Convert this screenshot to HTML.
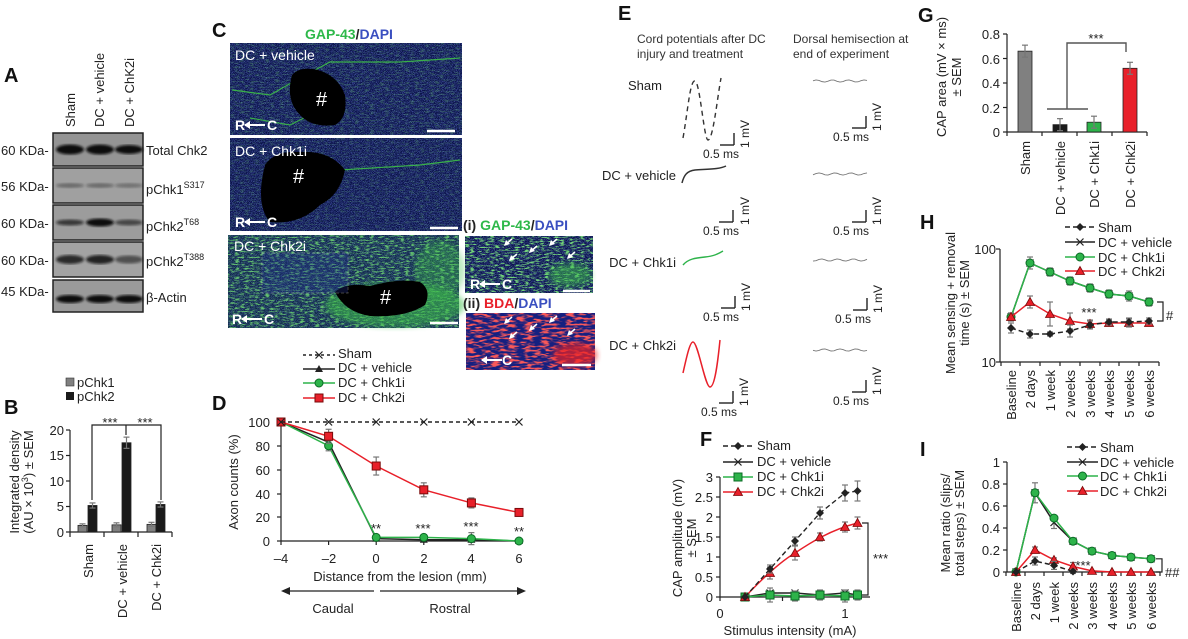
<!DOCTYPE html>
<html><head><meta charset="utf-8"><style>
html,body{margin:0;padding:0;background:#fff;}
svg{display:block;font-family:"Liberation Sans",Arial,sans-serif;}
.t{font-size:13px;fill:#222}
.s{font-size:12px;fill:#333}
.L{font-size:20px;font-weight:bold;fill:#111}
</style></head><body>
<svg id="g" width="1188" height="639" viewBox="0 0 1188 639" xmlns="http://www.w3.org/2000/svg">
<defs>
<filter id="nb" x="0" y="0" width="100%" height="100%">
 <feTurbulence type="fractalNoise" baseFrequency="1.6" numOctaves="1" seed="3" result="n"/>
 <feColorMatrix in="n" type="matrix" values="0 0 0 0 0.15  0 0 0 0 0.22  0 0 0 0 0.75  0 0 0 4 -1.9" />
</filter>
<filter id="ng" x="0" y="0" width="100%" height="100%">
 <feTurbulence type="fractalNoise" baseFrequency="0.2 0.7" numOctaves="2" seed="7" result="n"/>
 <feColorMatrix in="n" type="matrix" values="0 0 0 0 0.2  0 0 0 0 0.8  0 0 0 0 0.2  0 0 0 5 -2.5"/>
</filter>
<filter id="nr" x="0" y="0" width="100%" height="100%">
 <feTurbulence type="fractalNoise" baseFrequency="0.12 0.5" numOctaves="2" seed="5" result="n"/>
 <feColorMatrix in="n" type="matrix" values="0 0 0 0 0.95  0 0 0 0 0.1  0 0 0 0 0.1  0 0 0 5 -2.3"/>
</filter>
<filter id="bl"><feGaussianBlur stdDeviation="1.3"/></filter>
<filter id="bl2"><feGaussianBlur stdDeviation="3"/></filter>
</defs>

<!-- A -->
<text x="4" y="82" class="L">A</text>
<g class="t" font-size="14">
<text transform="translate(75,127) rotate(-90)">Sham</text>
<text transform="translate(104,127) rotate(-90)">DC + vehicle</text>
<text transform="translate(134,127) rotate(-90)">DC + ChK2i</text>
</g>
<g id="blots"></g>
<g class="t" font-size="14">
<text x="1" y="155">60 KDa-</text>
<text x="1" y="191">56 KDa-</text>
<text x="1" y="228">60 KDa-</text>
<text x="1" y="265">60 KDa-</text>
<text x="1" y="296">45 KDa-</text>
<text x="146" y="155">Total Chk2</text>
<text x="146" y="194">pChk1<tspan font-size="9" dy="-6">S317</tspan></text>
<text x="146" y="231">pChk2<tspan font-size="9" dy="-6">T68</tspan></text>
<text x="146" y="266">pChk2<tspan font-size="9" dy="-6">T388</tspan></text>
<text x="146" y="302">β-Actin</text>
</g>

<!-- B -->
<text x="4" y="414" class="L">B</text>
<rect x="66" y="378" width="8" height="8" fill="#808080" stroke="#333" stroke-width="0.6"/>
<rect x="66" y="392" width="8" height="8" fill="#1a1a1a"/>
<text x="77" y="387" class="t">pChk1</text>
<text x="77" y="401" class="t">pChk2</text>
<text transform="translate(19,482) rotate(-90)" class="t" text-anchor="middle" font-size="14">Integrated density</text>
<text transform="translate(33,482) rotate(-90)" class="t" text-anchor="middle" font-size="14">(AU × 10<tspan font-size="9" dy="-5">3</tspan><tspan dy="5">) ± SEM</tspan></text>
<g class="t" text-anchor="end" font-size="14">
<text x="64" y="435">20</text><text x="64" y="460">15</text><text x="64" y="486">10</text><text x="64" y="511">5</text><text x="64" y="537">0</text>
</g>
<g id="B"></g>
<g class="t" font-size="14">
<text transform="translate(93,544) rotate(-90)" text-anchor="end">Sham</text>
<text transform="translate(127,544) rotate(-90)" text-anchor="end">DC + vehicle</text>
<text transform="translate(161,544) rotate(-90)" text-anchor="end">DC + Chk2i</text>
</g>
<text x="110" y="427" class="t" text-anchor="middle" font-size="14">***</text>
<text x="145" y="427" class="t" text-anchor="middle" font-size="14">***</text>

<!-- C -->
<text x="212" y="37" class="L">C</text>
<text x="305" y="39" font-size="14" font-weight="bold"><tspan fill="#2eb84a">GAP-43</tspan><tspan fill="#222">/</tspan><tspan fill="#3a4fc0">DAPI</tspan></text>
<g id="C"></g>
<g font-size="14" fill="#fff">
<text x="235" y="60">DC + vehicle</text>
<text x="235" y="156">DC + Chk1i</text>
<text x="234" y="251">DC + Chk2i</text>
<text x="316" y="106" font-size="20">#</text>
<text x="293" y="183" font-size="20">#</text>
<text x="380" y="304" font-size="20">#</text>
<text x="235" y="130" font-weight="bold">R</text><text x="267" y="130" font-weight="bold">C</text>
<text x="235" y="227" font-weight="bold">R</text><text x="267" y="227" font-weight="bold">C</text>
<text x="232" y="324" font-weight="bold">R</text><text x="264" y="324" font-weight="bold">C</text>
<text x="470" y="289" font-weight="bold">R</text><text x="502" y="289" font-weight="bold">C</text>
<text x="502" y="365" font-weight="bold">C</text>
</g>
<text x="463" y="230" font-size="14" font-weight="bold"><tspan fill="#222">(i) </tspan><tspan fill="#2eb84a">GAP-43</tspan><tspan fill="#222">/</tspan><tspan fill="#3a4fc0">DAPI</tspan></text>
<text x="463" y="308" font-size="14" font-weight="bold"><tspan fill="#222">(ii) </tspan><tspan fill="#e8202a">BDA</tspan><tspan fill="#222">/</tspan><tspan fill="#3a4fc0">DAPI</tspan></text>

<!-- D -->
<text x="212" y="410" class="L">D</text>
<g class="t" font-size="14">
<text x="338" y="358">Sham</text><text x="338" y="372">DC + vehicle</text><text x="338" y="387">DC + Chk1i</text><text x="338" y="402">DC + Chk2i</text>
</g>
<text transform="translate(238,482) rotate(-90)" class="t" text-anchor="middle" font-size="14">Axon counts (%)</text>
<g class="t" text-anchor="end" font-size="14">
<text x="270" y="427">100</text><text x="270" y="451">80</text><text x="270" y="475">60</text><text x="270" y="499">40</text><text x="270" y="522">20</text><text x="270" y="546">0</text>
</g>
<g class="t" text-anchor="middle" font-size="14">
<text x="281" y="563">–4</text><text x="329" y="563">–2</text><text x="376" y="563">0</text><text x="424" y="563">2</text><text x="471" y="563">4</text><text x="519" y="563">6</text>
<text x="400" y="581">Distance from the lesion (mm)</text>
<text x="333" y="613">Caudal</text><text x="450" y="613">Rostral</text>
<text x="376" y="533">**</text><text x="423" y="533">***</text><text x="471" y="531">***</text><text x="519" y="536">**</text>
</g>
<g id="D"></g>

<!-- E -->
<text x="618" y="20" class="L">E</text>
<g class="s"><text x="637" y="43">Cord potentials after DC</text><text x="637" y="58">injury and treatment</text>
<text x="793" y="43">Dorsal hemisection at</text><text x="793" y="58">end of experiment</text></g>
<g class="t" font-size="15" fill="#333">
<text x="628" y="90">Sham</text>
<text x="676" y="180" text-anchor="end">DC + vehicle</text>
<text x="676" y="267" text-anchor="end">DC + Chk1i</text>
<text x="676" y="350" text-anchor="end">DC + Chk2i</text>
</g>
<g id="E"></g>

<!-- F -->
<text x="700" y="446" class="L">F</text>
<g class="t" font-size="14">
<text x="757" y="450">Sham</text><text x="757" y="466">DC + vehicle</text><text x="757" y="481">DC + Chk1i</text><text x="757" y="496">DC + Chk2i</text>
</g>
<text transform="translate(682,538) rotate(-90)" class="t" text-anchor="middle" font-size="14">CAP amplitude (mV)</text>
<text transform="translate(696,538) rotate(-90)" class="t" text-anchor="middle" font-size="14">± SEM</text>
<g class="t" text-anchor="end" font-size="14">
<text x="713" y="482">3</text><text x="713" y="502">2.5</text><text x="713" y="522">2</text><text x="713" y="542">1.5</text><text x="713" y="562">1</text><text x="713" y="582">0.5</text><text x="713" y="602">0</text>
</g>
<g class="t" text-anchor="middle" font-size="14">
<text x="720" y="618">0</text><text x="845" y="618">1</text><text x="790" y="635">Stimulus intensity (mA)</text>
</g>
<text x="873" y="563" class="t" font-size="14">***</text>
<g id="F"></g>

<!-- G -->
<text x="918" y="22" class="L">G</text>
<text transform="translate(946,77) rotate(-90)" class="t" text-anchor="middle" font-size="14">CAP area (mV × ms)</text>
<text transform="translate(961,77) rotate(-90)" class="t" text-anchor="middle" font-size="14">± SEM</text>
<g class="t" text-anchor="end" font-size="14">
<text x="1000" y="39">0.8</text><text x="1000" y="64">0.6</text><text x="1000" y="88">0.4</text><text x="1000" y="113">0.2</text><text x="1000" y="137">0</text>
</g>
<g class="t" font-size="14">
<text transform="translate(1030,141) rotate(-90)" text-anchor="end">Sham</text>
<text transform="translate(1065,141) rotate(-90)" text-anchor="end">DC + vehicle</text>
<text transform="translate(1099,141) rotate(-90)" text-anchor="end">DC + Chk1i</text>
<text transform="translate(1135,141) rotate(-90)" text-anchor="end">DC + Chk2i</text>
</g>
<text x="1096" y="43" class="t" text-anchor="middle" font-size="14">***</text>
<g id="G"></g>

<!-- H -->
<text x="920" y="229" class="L">H</text>
<g class="t" font-size="14">
<text x="1098" y="232">Sham</text><text x="1098" y="247">DC + vehicle</text><text x="1098" y="262">DC + Chk1i</text><text x="1098" y="276">DC + Chk2i</text>
</g>
<text transform="translate(955,303) rotate(-90)" class="t" text-anchor="middle" font-size="14">Mean sensing + removal</text>
<text transform="translate(969,303) rotate(-90)" class="t" text-anchor="middle" font-size="14">time (s) ± SEM</text>
<g class="t" text-anchor="end" font-size="14"><text x="996" y="254">100</text><text x="996" y="367">10</text></g>
<text x="1089" y="317" class="t" font-size="14" text-anchor="middle">***</text>
<text x="1166" y="320" class="t" font-size="16">#</text>
<g class="t" font-size="14" text-anchor="end">
<text transform="translate(1016,370) rotate(-90)">Baseline</text>
<text transform="translate(1035,370) rotate(-90)">2 days</text>
<text transform="translate(1055,370) rotate(-90)">1 week</text>
<text transform="translate(1075,370) rotate(-90)">2 weeks</text>
<text transform="translate(1095,370) rotate(-90)">3 weeks</text>
<text transform="translate(1114,370) rotate(-90)">4 weeks</text>
<text transform="translate(1134,370) rotate(-90)">5 weeks</text>
<text transform="translate(1154,370) rotate(-90)">6 weeks</text>
</g>
<g id="H"></g>

<!-- I -->
<text x="920" y="456" class="L">I</text>
<g class="t" font-size="14">
<text x="1100" y="452">Sham</text><text x="1100" y="467">DC + vehicle</text><text x="1100" y="481">DC + Chk1i</text><text x="1100" y="496">DC + Chk2i</text>
</g>
<text transform="translate(950,523) rotate(-90)" class="t" text-anchor="middle" font-size="14">Mean ratio (slips/</text>
<text transform="translate(964,523) rotate(-90)" class="t" text-anchor="middle" font-size="14">total steps) ± SEM</text>
<g class="t" text-anchor="end" font-size="14">
<text x="1000" y="467">1</text><text x="1000" y="489">0.8</text><text x="1000" y="511">0.6</text><text x="1000" y="533">0.4</text><text x="1000" y="555">0.2</text><text x="1000" y="577">0</text>
</g>
<text x="1083" y="570" class="t" font-size="14" text-anchor="middle">***</text>
<text x="1165" y="577" class="t" font-size="15">##</text>
<g class="t" font-size="14" text-anchor="end">
<text transform="translate(1021,582) rotate(-90)">Baseline</text>
<text transform="translate(1040,582) rotate(-90)">2 days</text>
<text transform="translate(1059,582) rotate(-90)">1 week</text>
<text transform="translate(1078,582) rotate(-90)">2 weeks</text>
<text transform="translate(1097,582) rotate(-90)">3 weeks</text>
<text transform="translate(1117,582) rotate(-90)">4 weeks</text>
<text transform="translate(1136,582) rotate(-90)">5 weeks</text>
<text transform="translate(1156,582) rotate(-90)">6 weeks</text>
</g>
<g id="I"></g>
</svg>
<script>
var NS="http://www.w3.org/2000/svg";
function el(par,tag,a){var e=document.createElementNS(NS,tag);for(var k in a)e.setAttribute(k,a[k]);document.getElementById(par).appendChild(e);return e;}
function line(p,x1,y1,x2,y2,c,w,d){var a={x1:x1,y1:y1,x2:x2,y2:y2,stroke:c||"#222","stroke-width":w||1.2};if(d)a["stroke-dasharray"]=d;return el(p,"line",a);}
function poly(p,pts,c,w,d){var a={points:pts.map(function(q){return q.join(",")}).join(" "),fill:"none",stroke:c,"stroke-width":w||1.5};if(d)a["stroke-dasharray"]=d;el(p,"polyline",a);}
function err(p,x,y,e){line(p,x,y-e,x,y+e,"#777",1.2);line(p,x-3,y-e,x+3,y-e,"#777",1.2);line(p,x-3,y+e,x+3,y+e,"#777",1.2);}
function mk(p,t,x,y,c){
 if(t=="o")el(p,"circle",{cx:x,cy:y,r:4,fill:c,stroke:"#0a6b25","stroke-width":1});
 else if(t=="s")el(p,"rect",{x:x-4,y:y-4,width:8,height:8,fill:c,stroke:"#7a0a0a","stroke-width":1});
 else if(t=="sg")el(p,"rect",{x:x-4,y:y-4,width:8,height:8,fill:"#2db34a",stroke:"#0a6b25","stroke-width":1});
 else if(t=="t")el(p,"path",{d:"M"+x+","+(y-4.5)+"l4.5,8h-9z",fill:c,stroke:"#7a0a0a","stroke-width":0.8});
 else if(t=="d")el(p,"path",{d:"M"+x+","+(y-4)+"l4,4l-4,4l-4,-4z",fill:"#222"});
 else if(t=="x"){line(p,x-3.5,y-3.5,x+3.5,y+3.5,"#222",1.2);line(p,x-3.5,y+3.5,x+3.5,y-3.5,"#222",1.2);}
 else if(t=="tb")el(p,"path",{d:"M"+x+","+(y-4)+"l4,7h-8z",fill:"#222"});
}
function legend(p,x1,x2,y,c,d,m,mc){line(p,x1,y,x2,y,c,1.5,d);mk(p,m,(x1+x2)/2,y,mc);}
/* A blots */
var rows=[[133,166,"#949494",[[1,5,1],[1,5,1],[1,4.5,1]]],[168,203,"#a0a0a0",[[.35,2.5,1],[.35,2.5,1],[.3,2.5,1]]],[205,240,"#9c9c9c",[[.7,3,1],[1,4,1],[.6,3,1]]],[242,277,"#a3a3a3",[[.8,4.5,1],[.85,4.5,1],[.55,4,1]]],[280,312,"#9a9a9a",[[1,4,1],[1,4,1],[1,4,1]]]];
rows.forEach(function(r){el("blots","rect",{x:53,y:r[0],width:90,height:r[1]-r[0],fill:r[2],stroke:"#222","stroke-width":1.5});
 var cy=(r[0]+r[1])/2+(r[0]==280?3:0);[70,100,129].forEach(function(cx,i){var b=r[3][i];el("blots","ellipse",{cx:cx,cy:cy,rx:14,ry:b[1],fill:"#111",opacity:b[0],filter:"url(#bl)"});});});
/* B */
var B0=532,Bs=5.1;
line("B",70,430,70,532,"#222");line("B",70,532,172,532,"#222");
[430,455.5,481,506.5,532].forEach(function(y){line("B",66,y,70,y);});
[70,104,138,172].forEach(function(x){line("B",x,532,x,537);});
[[78,1.3,.3,"#808080"],[88,5.2,.5,"#1a1a1a"],[112,1.4,.4,"#808080"],[122,17.5,1.1,"#1a1a1a"],[147,1.5,.4,"#808080"],[156,5.4,.5,"#1a1a1a"]].forEach(function(b){var h=b[1]*Bs;el("B","rect",{x:b[0],y:B0-h,width:9,height:h,fill:b[3],stroke:"#222","stroke-width":0.8});err("B",b[0]+4.5,B0-h,b[2]*Bs);});
poly("B",[[92,500],[92,425],[161,425],[161,500]],"#222",1.2);line("B",126,425,126,435,"#222",1.2);
/* C images */
function img(x,y,w,h,g){el("C","rect",{x:x,y:y,width:w,height:h,fill:"#0a1248"});el("C","rect",{x:x,y:y,width:w,height:h,filter:"url(#nb)",opacity:0.8});
 if(g)el("C","rect",{x:x,y:y,width:w,height:h,filter:"url(#ng)",opacity:g});}
img(230,43,232,92,0.25);img(230,138,232,93,0.2);img(228,235,231,93,0.8);
poly("C",[[232,90],[270,95],[300,78],[330,62],[400,62],[460,58]],"#3ab04a",1.2);
poly("C",[[250,118],[290,125],[320,110]],"#3ab04a",1.2);
poly("C",[[300,188],[340,170],[420,165],[460,160]],"#3ab04a",1.2);
el("C","path",{d:"M292,75 Q300,66 318,70 Q338,76 345,95 Q348,118 335,125 Q312,128 300,115 Q285,100 292,75z",fill:"#000"});
el("C","path",{d:"M265,165 Q275,150 300,152 Q330,150 345,170 Q340,195 320,205 Q300,225 270,222 Q255,205 265,165z",fill:"#000"});
el("C","rect",{x:228,y:235,width:231,height:93,fill:"#36a840",opacity:0.15});
el("C","ellipse",{cx:395,cy:305,rx:70,ry:22,fill:"#3cc048",opacity:0.55,filter:"url(#bl2)"});
el("C","ellipse",{cx:440,cy:270,rx:25,ry:30,fill:"#3cc048",opacity:0.35,filter:"url(#bl2)"});
el("C","path",{d:"M335,292 Q345,282 370,286 Q400,278 420,282 Q432,290 425,305 Q405,318 370,316 Q345,312 335,292z",fill:"#000"});
el("C","rect",{x:262,y:253,width:86,height:40,fill:"#223090",opacity:0.3,stroke:"#ddd","stroke-width":1,"stroke-dasharray":"3,2"});
img(465,236,128,57,0.9);
el("C","ellipse",{cx:570,cy:275,rx:22,ry:12,fill:"#3cc048",opacity:.5,filter:"url(#bl2)"});
el("C","rect",{x:466,y:313,width:129,height:57,fill:"#152080"});
el("C","rect",{x:466,y:313,width:129,height:57,filter:"url(#nr)"});
el("C","ellipse",{cx:575,cy:355,rx:22,ry:12,fill:"#ee2020",opacity:.7,filter:"url(#bl2)"});
[[427,455,131],[430,458,228],[430,458,323],[563,590,291],[562,591,365]].forEach(function(s){line("C",s[0],s[2],s[1],s[2],"#fff",2.5);});
[[245,130],[245,227],[242,324],[480,289],[482,365]].forEach(function(a){line("C",a[0],a[1]-5,a[0]+20,a[1]-5,"#fff",2);el("C","path",{d:"M"+(a[0]-1)+","+(a[1]-5)+"l6,-4v8z",fill:"#fff"});});
[[505,245],[530,252],[550,245],[568,258],[510,260],[505,323],[530,330],[550,322],[568,335],[510,338]].forEach(function(a){line("C",a[0],a[1],a[0]+7,a[1]-6,"#fff",1.5);el("C","path",{d:"M"+(a[0]-1)+","+(a[1]+1)+"l2,-6l4,4z",fill:"#fff"});});
/* D */
line("D",281,422,281,541);line("D",281,541,519,541);
[422,446,470,494,517,541].forEach(function(y){line("D",277,y,281,y);});
[281,328.6,376.2,423.8,471.4,519].forEach(function(x){line("D",x,541,x,545);});
var DX=[281,328.6,376.2,423.8,471.4,519];function DY(v){return 541-1.19*v;}
function ser(p,X,Y,c,d,m,mc,e){var pts=X.map(function(x,i){return[x,Y[i]];});poly(p,pts,c,1.5,d);if(e)pts.forEach(function(q,i){if(e[i])err(p,q[0],q[1],e[i]);});pts.forEach(function(q){mk(p,m,q[0],q[1],mc);});}
ser("D",DX,[100,83,2,1,1,0].map(DY),"#222",null,"tb");
ser("D",DX,[100,80,3,3,2,0].map(DY),"#2db34a",null,"o","#2db34a",[0,5,2,2,6,2]);
ser("D",DX,[100,88,63,43,32,24].map(DY),"#e8202a",null,"s","#e8202a",[0,7,9,7,5,3]);
ser("D",DX,[100,100,100,100,100,100].map(DY),"#222","4,3","x");
legend("D",303,335,355,"#222","3,3","x");legend("D",303,335,369,"#222",null,"tb");legend("D",303,335,383,"#2db34a",null,"o","#2db34a");legend("D",303,335,398,"#e8202a",null,"s","#e8202a");
line("D",283,591,374,591,"#222",1.2);el("D","path",{d:"M281,591l9,-4v8z",fill:"#222"});
line("D",380,591,522,591,"#222",1.2);el("D","path",{d:"M526,591l-9,-4v8z",fill:"#222"});
/* E */
el("E","path",{d:"M683,138 C688,110 690,80 695,81 C700,82 704,140 708,140 C713,140 717,100 721,78",fill:"none",stroke:"#333","stroke-width":1.4,"stroke-dasharray":"5,4"});
el("E","path",{d:"M682,183 C684,175 687,171 695,170 C710,169 720,169 726,166",fill:"none",stroke:"#333","stroke-width":1.5});
el("E","path",{d:"M683,265 C688,259 695,258 705,257 C714,256 718,254 723,251",fill:"none",stroke:"#2db34a","stroke-width":1.4});
el("E","path",{d:"M683,373 C687,355 690,342 693,342 C698,342 705,387 710,387 C715,387 718,360 720,340",fill:"none",stroke:"#e8202a","stroke-width":1.5});
function sb(x,y){line("E",x,y-12,x,y,"#222",1.4);line("E",x-14,y,x,y,"#222",1.4);}
[[734,145],[733,222],[735,308],[733,403],[866,128],[866,222],[867,310],[866,392]].forEach(function(s){sb(s[0],s[1]);});
[[81,1],[174,1],[260,1],[350,1]].forEach(function(r,i){var pts=[];for(var x=813;x<=867;x+=3)pts.push([x,r[0]+Math.sin(x*1.7+i)*1.1]);poly("E",pts,"#777",0.9);});
/* F */
line("F",720,477,720,597);line("F",720,597,870,597);
[477,497,517,537,557,577,597].forEach(function(y){line("F",716,y,720,y);});
[720,782.5,845].forEach(function(x){line("F",x,597,x,601);});
var FX=[745,770,795,820,845,857.5];
ser("F",FX,[597,593,593,595,593,595],"#222",null,"x");
ser("F",FX,[597,595,596,595,596,595],"#2db34a",null,"sg",null,[0,7,5,5,6,5]);
el("F","path",{d:"M745,597 C760,581 780,562 795,553 C810,543 830,530 857.5,523",fill:"none",stroke:"#e8202a","stroke-width":1.5});
FX.forEach(function(x,i){var y=[597,573,553,537,527,523][i];err("F",x,y,[0,6,7,4,5,6][i]);mk("F","t",x,y,"#e8202a");});
poly("F",FX.map(function(x,i){return[x,[597,569,541,513,493,491][i]];}),"#222",1.4,"5,3");
FX.forEach(function(x,i){var y=[597,569,541,513,493,491][i];err("F",x,y,[0,4,4,6,8,10][i]);mk("F","d",x,y);});
poly("F",[[862,523],[868,523],[868,595],[862,595]],"#222",1.2);
legend("F",723,753,446,"#222","5,3","d");legend("F",723,753,462,"#222",null,"x");legend("F",723,753,477,"#2db34a",null,"sg");legend("F",723,753,492,"#e8202a",null,"t","#e8202a");
/* G */
line("G",1007,34,1007,132);line("G",1007,132,1147,132);
[34,58.5,83,107.5,132].forEach(function(y){line("G",1003,y,1007,y);});
[1007,1042,1077,1112,1147].forEach(function(x){line("G",x,132,x,136);});
[[1018,.66,"#808080"],[1053,.06,"#1a1a1a"],[1087,.08,"#2db34a"],[1123,.52,"#e8202a"]].forEach(function(b){var h=b[1]*122.5;el("G","rect",{x:b[0],y:132-h,width:14,height:h,fill:b[2],stroke:"#222","stroke-width":0.8});err("G",b[0]+7,132-h,6);});
line("G",1047,109,1088,109,"#555",1.4);poly("G",[[1067,109],[1067,43],[1126,43],[1126,52]],"#555",1.4);
/* H */
line("H",1000,249,1000,362);line("H",1000,362,1159,362);
line("H",996,249,1000,249);line("H",996,362,1000,362);
var HX=[1011,1030,1050,1070,1090,1109,1129,1149];
[1001,1020,1040,1060,1080,1100,1119,1139,1159].forEach(function(x){line("H",x,362,x,366);});
ser("H",HX,[317,263,272,281,288,294,296,302],"#222",null,"x",null,[4,6,4,4,4,4,5,4]);
ser("H",HX,[317,263,272,281,288,294,296,302],"#2db34a",null,"o","#2db34a");
ser("H",HX,[317,302,314,321,324,323,323,323],"#e8202a",null,"t","#e8202a",[4,6,12,8,4,3,4,3]);
ser("H",HX,[328,334,334,331,325,322,322,321],"#222","5,3","d",null,[5,4,2,6,4,3,4,3]);
poly("H",[[1157,302],[1163,302],[1163,321],[1157,321]],"#222",1.2);
legend("H",1065,1095,227,"#222","5,3","d");legend("H",1065,1095,242,"#222",null,"x");legend("H",1065,1095,257,"#2db34a",null,"o","#2db34a");legend("H",1065,1095,271,"#e8202a",null,"t","#e8202a");
/* I */
line("I",1007,462,1007,572);line("I",1007,572,1160,572);
[462,484,506,528,550,572].forEach(function(y){line("I",1003,y,1007,y);});
var IX=[1016,1035,1054,1073,1092,1112,1131,1151];
[1006,1025,1044,1063,1082,1102,1121,1141,1160].forEach(function(x){line("I",x,572,x,576);});
function IY(v){return 572-110*v;}
ser("I",IX,[0,.72,.45,.28,.19,.15,.135,.12].map(IY),"#222",null,"x",null,[0,10,6,3,2,2,2,2]);
ser("I",IX,[0,.72,.49,.28,.19,.15,.135,.12].map(IY),"#2db34a",null,"o","#2db34a");
ser("I",IX,[0,.2,.11,.05,.01,0,0,0].map(IY),"#e8202a",null,"t","#e8202a",[0,3,2,4,0,0,0,0]);
ser("I",IX.slice(0,4),[0,.1,.06,.005].map(IY),"#222","5,3","d",null,[0,4,4,2]);
poly("I",[[1156,558.8],[1162,558.8],[1162,572],[1156,572]],"#222",1.2);
legend("I",1067,1098,447,"#222","5,3","d");legend("I",1067,1098,462,"#222",null,"x");legend("I",1067,1098,476,"#2db34a",null,"o","#2db34a");legend("I",1067,1098,491,"#e8202a",null,"t","#e8202a");
</script>
<div style="position:absolute;left:0;top:0;width:1188px;height:639px;pointer-events:none;font-family:'Liberation Sans',sans-serif;font-size:12px;color:#222">
<span style="position:absolute;left:703px;top:147px">0.5 ms</span>
<span style="position:absolute;left:703px;top:224px">0.5 ms</span>
<span style="position:absolute;left:703px;top:310px">0.5 ms</span>
<span style="position:absolute;left:701px;top:405px">0.5 ms</span>
<span style="position:absolute;left:833px;top:130px">0.5 ms</span>
<span style="position:absolute;left:833px;top:224px">0.5 ms</span>
<span style="position:absolute;left:835px;top:312px">0.5 ms</span>
<span style="position:absolute;left:833px;top:394px">0.5 ms</span>
<span style="position:absolute;left:738px;top:148px;transform:rotate(-90deg);transform-origin:0 0">1 mV</span>
<span style="position:absolute;left:738px;top:225px;transform:rotate(-90deg);transform-origin:0 0">1 mV</span>
<span style="position:absolute;left:739px;top:311px;transform:rotate(-90deg);transform-origin:0 0">1 mV</span>
<span style="position:absolute;left:737px;top:406px;transform:rotate(-90deg);transform-origin:0 0">1 mV</span>
<span style="position:absolute;left:870px;top:131px;transform:rotate(-90deg);transform-origin:0 0">1 mV</span>
<span style="position:absolute;left:870px;top:225px;transform:rotate(-90deg);transform-origin:0 0">1 mV</span>
<span style="position:absolute;left:871px;top:313px;transform:rotate(-90deg);transform-origin:0 0">1 mV</span>
<span style="position:absolute;left:870px;top:395px;transform:rotate(-90deg);transform-origin:0 0">1 mV</span>
</div>
</body></html>
